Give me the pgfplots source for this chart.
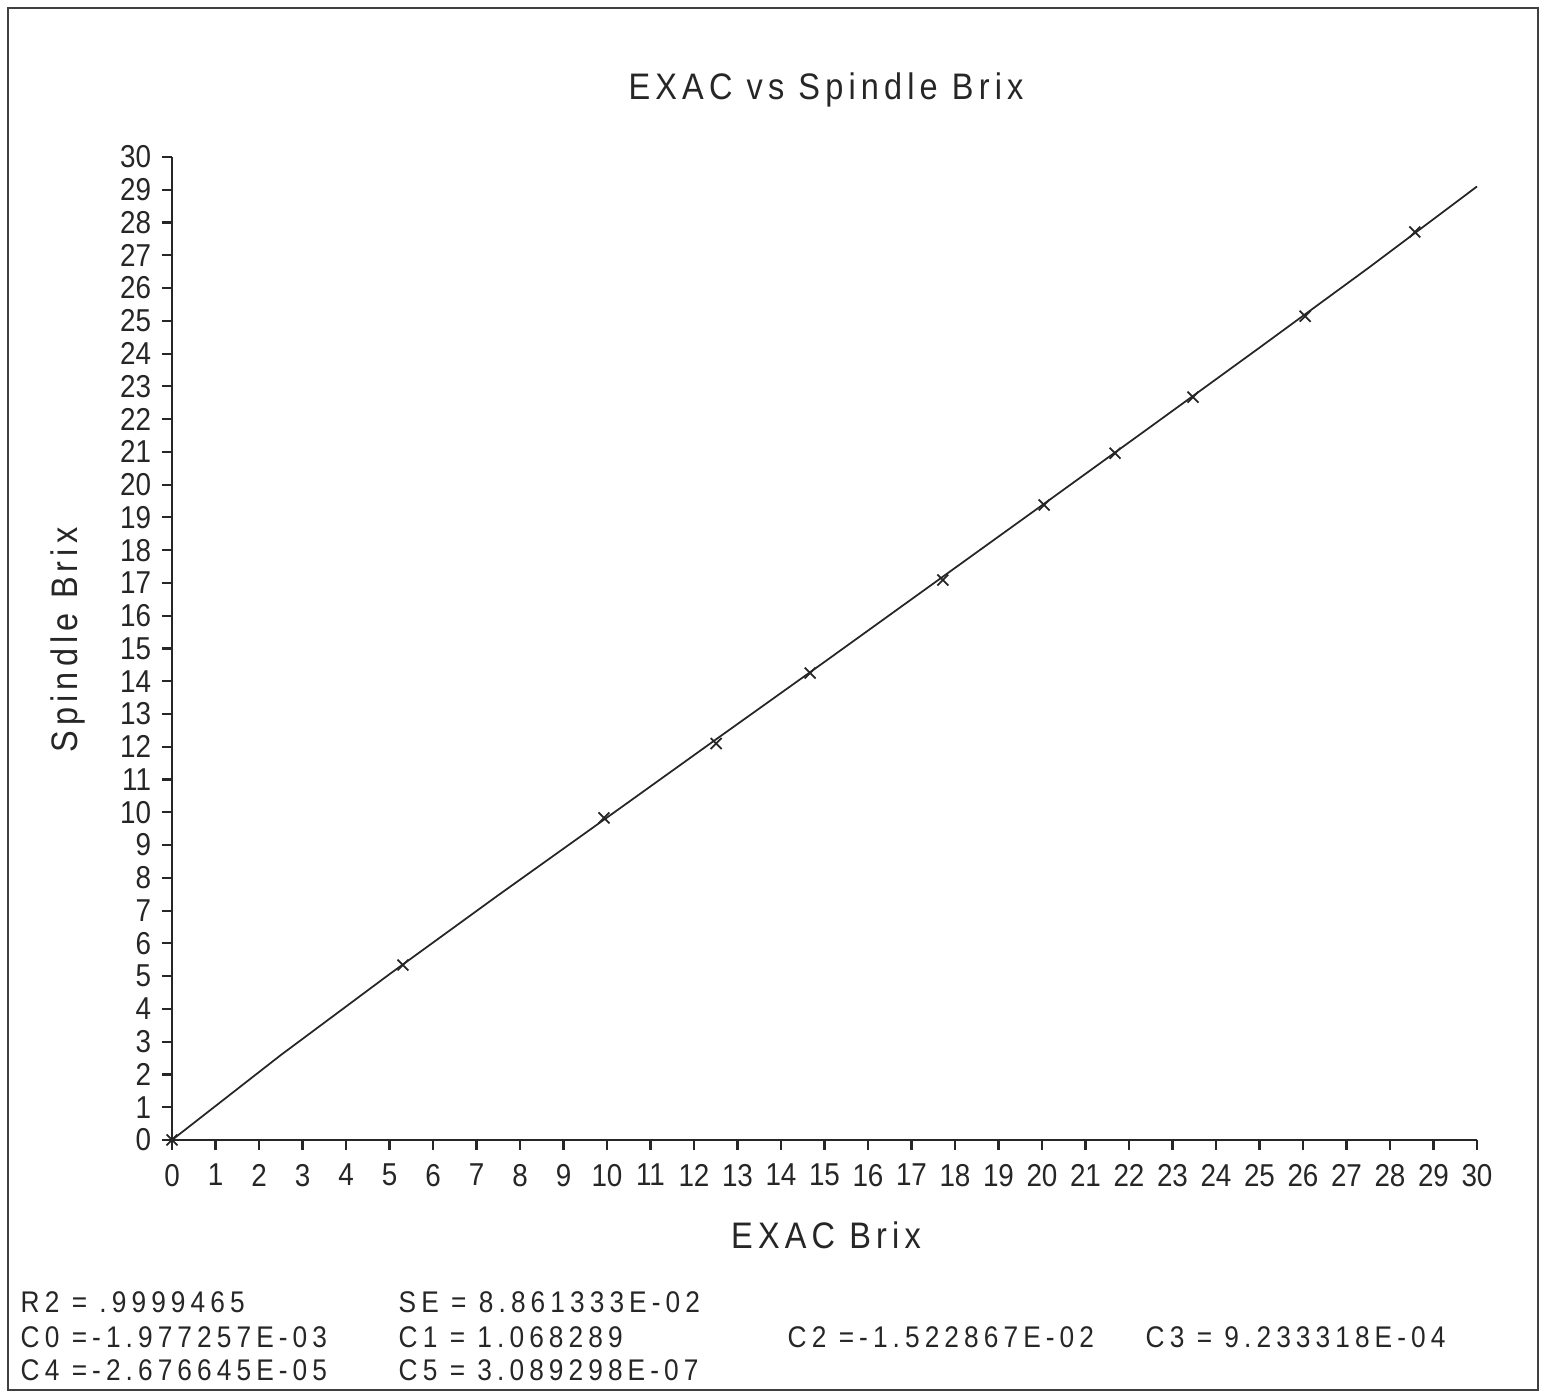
\documentclass[border=0pt]{standalone}
\usepackage{fontspec}
\setmainfont{Liberation Sans}[FakeStretch=0.88]
\newfontfamily\spacedA{Liberation Sans}[FakeStretch=0.88, LetterSpace=14]
\newfontfamily\spacedB{Liberation Sans}[FakeStretch=0.88, LetterSpace=17]
\usepackage{pgfplots}
\pgfplotsset{compat=1.18}
\begin{document}
\begin{tikzpicture}[x=1cm,y=1cm]
\path[use as bounding box] (0,0) rectangle (15.43,13.97);
\draw[line width=0.8pt, black!75] (0.08,0.07) rectangle (15.38,13.89);
\begin{axis}[
  at={(1.72cm,2.57cm)}, anchor=south west, scale only axis,
  width=13.05cm, height=9.83cm,
  xmin=0, xmax=30, ymin=0, ymax=30,
  axis lines=left, axis line style={-, line width=0.8pt, black!85},
  xtick={0,...,30}, ytick={0,...,30},
  tick align=outside, major tick length=0.1cm,
  tick style={black!85, line width=0.6pt},
  ticklabel style={font=\fontsize{9}{10}\selectfont, inner sep=1.5pt, text=black!85},
  xticklabel style={yshift=-0.08cm},
  yticklabel style={xshift=-0.05cm},
  /pgf/number format/assume math mode=true,
  clip=false
]
% fitted curve
\addplot[black!85, line width=0.5pt] coordinates {
  (0,0) (2.5,2.59) (5,5.06) (7.5,7.47) (10,9.84) (12.5,12.22) (15,14.59)
  (17.5,16.98) (20,19.37) (22.5,21.77) (25,24.18) (27.5,26.61) (30,29.10)
};
% measured points
\addplot[only marks, mark=x, mark size=2.2pt, black!85, mark options={line width=0.5pt}] coordinates {
  (0,0) (5.31,5.34) (9.93,9.83) (12.51,12.1) (14.67,14.25) (17.72,17.09)
  (20.05,19.38) (21.68,20.96) (23.47,22.67) (26.05,25.14) (28.57,27.71)
};
\end{axis}
\begin{scope}[every node/.style={text=black!85}]
\node[font=\spacedA\fontsize{10.5}{12}\selectfont] at (8.26,13.07) {EXAC vs Spindle Brix};
\node[font=\spacedA\fontsize{10.5}{12}\selectfont] at (8.26,1.62) {EXAC Brix};
\node[font=\spacedA\fontsize{10.5}{12}\selectfont, rotate=90] at (0.68,7.57) {Spindle Brix};
\end{scope}
\begin{scope}[every node/.style={anchor=west, font=\spacedB\fontsize{8.5}{10}\selectfont, inner sep=0pt, text=black!85}]
\node at (0.20,0.95) {R2 = .9999465};
\node at (3.98,0.95) {SE = 8.861333E-02};
\node at (0.20,0.60) {C0 =-1.977257E-03};
\node at (3.98,0.60) {C1 = 1.068289};
\node at (7.87,0.60) {C2 =-1.522867E-02};
\node at (11.45,0.60) {C3 = 9.233318E-04};
\node at (0.20,0.27) {C4 =-2.676645E-05};
\node at (3.98,0.27) {C5 = 3.089298E-07};
\end{scope}
\end{tikzpicture}
\end{document}
